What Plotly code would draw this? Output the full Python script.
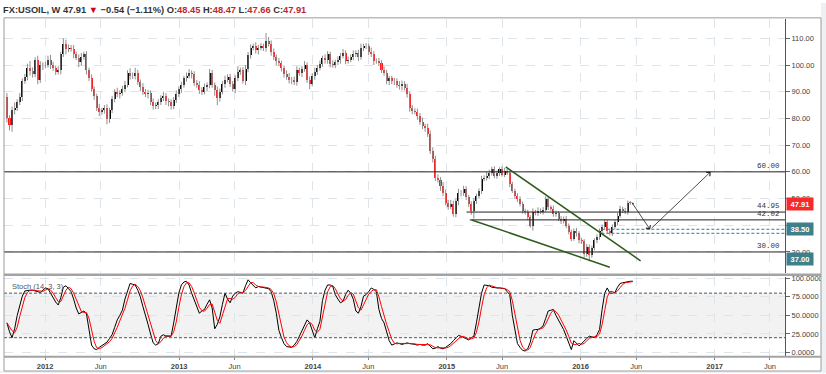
import numpy as np
import pandas as pd
import plotly.graph_objects as go

# ---------------- data (weekly FX:USOIL) ----------------
first_week = "2011-09-19"
first_open = 88.0

close = [
    80, 77.5, 83, 84, 86, 88, 94, 95.5, 99, 97.6,
    96.5, 101.7, 94.3, 99.9, 100, 100, 102, 100, 98.8, 97.5,
    98, 104, 108, 106, 106.5, 106, 104, 102.8, 101, 103,
    104, 98, 95, 91, 88.5, 84, 82.4, 83, 83.8, 79.8,
    83, 87.3, 90, 89, 89.5, 91, 92.6, 97, 96, 95.8,
    97, 93.6, 91.7, 90, 89, 89.5, 86, 84.5, 85, 86,
    87.7, 88.5, 86.5,
    86, 84.5, 87, 89, 91, 92.5, 95, 96, 97, 96.5,
    93.4, 92.5, 90.7, 90, 91.8, 92.5, 97, 92.5, 90.5, 87.5,
    90, 93, 94.5, 95.5, 93, 91, 95, 97.5, 98, 94,
    98.5, 103.9, 106.5, 107, 105.5, 106.5, 107, 106.5, 109, 108,
    104.7, 102.9, 101.5, 100.6, 98.8, 96.8, 95.5, 94.3, 94.5, 93.5,
    98, 97, 98.5, 100, 94.5, 93, 96, 97.5, 99, 100.5,
    102.5, 102,
    104, 100.3, 100, 101, 102, 103.5, 104.5, 101.5, 102, 103, 104,
    104.5, 103, 106.5, 107, 107, 105, 104, 101.5, 101.5, 100.8,
    98, 97, 94, 95, 94, 94, 92.5, 92, 93, 91.5,
    89, 84, 82.8, 82.5, 81, 78.8, 77, 76.5, 74.3, 67.7,
    65, 57.8, 57, 54.7, 52.2, 48.5, 47, 48, 44.2, 49,
    52.2,
    52, 53.6, 50.5, 48, 45.4, 49, 51, 52.8, 57.3, 57.7,
    58.5, 59.6, 60.9, 58.4, 59.5, 60.9, 59, 60.5, 59.6, 55.3,
    52.9, 51, 50, 47.9, 45.4, 44.8, 43, 39.9, 44.8, 44.5,
    45.5, 45, 45.8, 49.8, 46.7, 46.2, 44.2, 44.5, 42.4, 41.5,
    42.5, 39.9, 37.4, 35, 38, 37, 34.3,
    34, 29.4, 32, 28.8, 31.4, 34.3, 35.6, 38, 39.3, 41.1,
    38, 37, 39.3, 41.1, 43.6, 46.1, 45.5, 45, 48.5, 48.45,
    47.91,
]

wick_hi = [
    1.5, 1.2, 1.5, 2.0, 1.2, 1.5, 1.0, 1.2, 1.5, 2.5,
    1.5, 1.2, 1.8, 1.5, 1.0, 1.2, 1.5, 1.8, 1.2, 1.0,
    1.5, 1.0, 2.0, 1.5, 1.2, 1.0, 1.5, 1.0, 1.2, 1.5,
    1.0, 1.2, 1.0, 1.5, 1.0, 0.8, 1.5, 1.0, 1.2, 1.5,
    1.0, 1.2, 1.0, 1.5, 1.0, 1.2, 1.5, 1.0, 1.8, 1.2,
    2.0, 1.2, 1.0, 1.5, 1.0, 1.2, 1.0, 1.5, 1.0, 1.2,
    1.0, 1.5, 1.0, 1.0, 1.2, 1.0, 1.5, 1.0, 1.2, 1.0,
    1.2, 1.5, 1.0, 1.2, 1.0, 1.5, 1.0, 1.2, 1.0, 1.5,
    1.2, 1.0, 1.5, 1.2, 1.0, 1.5, 1.0, 1.2, 1.0, 1.2,
    2.0, 1.0, 1.2, 1.5, 1.0, 1.2, 1.0, 1.5, 1.0, 1.2,
    1.0, 3.0, 1.5, 1.2, 1.5, 1.0, 1.2, 1.0, 1.0, 1.2,
    1.5, 1.0, 1.2, 1.5, 1.0, 1.2, 1.5, 1.0, 1.2, 1.0,
    1.5, 1.0, 1.2, 1.0, 1.5, 1.2, 1.0, 1.5, 1.0, 1.2,
    1.0, 1.5, 1.0, 1.2, 1.0, 1.5, 1.0, 1.2, 1.5, 1.0,
    1.2, 1.0, 1.5, 1.2, 1.0, 1.2, 1.0, 1.5, 1.2, 1.0,
    1.0, 1.2, 1.0, 1.5, 1.2, 1.0, 1.5, 1.2, 1.0, 1.0,
    1.2, 1.0, 1.5, 1.0, 1.5, 1.2, 1.5, 1.0, 1.2, 1.0,
    1.5, 1.2, 1.0, 1.5, 1.2, 1.0, 1.5, 1.0, 1.2, 1.0,
    0.8, 1.0, 1.2, 0.8, 1.0, 1.2, 1.0, 1.5, 1.2, 1.0,
    1.2, 1.0, 0.8, 1.2, 1.0, 1.0, 0.8, 1.0, 0.8, 1.0,
    0.8, 1.0, 0.8, 1.0, 0.8, 1.5, 1.0, 1.2, 0.8, 1.0,
    1.0, 1.0, 0.8, 1.2, 1.0, 0.8, 1.0, 0.8, 1.0, 0.8,
    1.0, 0.8, 1.0, 0.8, 1.0, 0.8, 1.0, 0.8, 1.0, 0.8,
    1.0, 0.8, 1.0, 1.2, 1.0, 0.8, 1.0, 0.8, 1.0, 1.2,
    0.8, 1.0, 0.8, 0.6, 0.02,
]

wick_lo = [
    1.5, 2.0, 2.5, 1.5, 1.2, 1.0, 1.5, 1.0, 1.2, 1.5,
    1.2, 1.0, 1.5, 1.0, 1.8, 1.2, 1.0, 1.5, 1.0, 1.2,
    1.0, 1.5, 1.0, 2.0, 1.2, 1.0, 1.5, 1.0, 1.8, 1.2,
    1.0, 1.5, 1.0, 1.0, 1.5, 1.2, 1.5, 1.0, 1.2, 2.0,
    1.5, 1.0, 1.2, 1.0, 1.5, 1.0, 1.2, 1.0, 1.5, 1.0,
    1.2, 1.0, 1.5, 1.2, 1.0, 1.5, 1.0, 1.2, 1.0, 1.5,
    1.0, 1.2, 1.5, 1.5, 1.2, 1.0, 1.2, 1.0, 1.5, 1.0,
    1.2, 1.0, 1.5, 1.2, 1.0, 1.5, 1.2, 1.0, 1.5, 1.2,
    1.0, 2.0, 2.5, 1.2, 1.0, 1.5, 1.0, 1.2, 1.0, 1.5,
    1.0, 1.2, 1.0, 1.5, 1.2, 1.5, 1.0, 1.2, 1.5, 1.0,
    1.2, 1.5, 1.0, 1.2, 1.0, 1.5, 1.0, 1.2, 1.5, 1.0,
    1.2, 1.5, 1.0, 1.2, 1.0, 1.5, 1.0, 1.2, 2.0, 1.0,
    1.5, 1.2, 1.0, 1.2, 1.5, 1.5, 1.2, 1.0, 1.2, 1.0,
    1.5, 1.0, 1.2, 1.0, 1.0, 1.2, 1.0, 1.5, 1.0, 1.2,
    1.0, 1.2, 1.0, 1.5, 1.0, 1.2, 1.0, 1.0, 1.2, 1.5,
    1.2, 1.5, 1.0, 1.2, 1.5, 1.0, 1.2, 1.5, 1.2, 1.0,
    1.5, 1.2, 1.0, 1.5, 1.2, 1.0, 1.5, 1.2, 1.0, 1.8,
    1.2, 1.0, 1.2, 1.0, 1.0, 1.2, 1.5, 1.2, 1.0, 1.0,
    1.2, 1.5, 2.9, 1.0, 0.8, 1.0, 0.8, 1.0, 1.2, 1.0,
    0.8, 1.0, 1.0, 0.8, 1.0, 0.8, 1.0, 0.8, 1.0, 1.2,
    0.8, 1.0, 0.8, 1.0, 0.8, 1.9, 0.8, 1.0, 0.8, 1.0,
    0.8, 1.0, 0.8, 1.0, 1.0, 0.8, 1.0, 0.8, 1.0, 0.8,
    1.0, 0.8, 1.2, 1.0, 1.0, 1.5, 1.2, 2.3, 1.0, 0.8,
    1.0, 1.0, 0.8, 1.0, 1.0, 0.8, 1.0, 0.8, 1.0, 0.8,
    1.0, 0.8, 1.0, 0.8, 0.25,
]

stoch_k = [
    40, 28, 20, 32, 50, 64, 76, 83, 84, 84,
    84, 83, 82, 81, 84, 87, 86, 80, 74, 68,
    64, 74, 88, 90, 86, 82, 72, 60, 52, 54,
    56, 52, 30, 10, 5, 4, 7, 9, 11, 14,
    19, 24, 34, 44, 50, 57, 72, 84, 93, 92,
    91, 84, 75, 62, 48, 38, 25, 13, 10, 12,
    22, 24, 22, 22, 22, 40, 62, 80, 91, 95,
    96, 91, 80, 70, 60, 53, 56, 58, 65, 71,
    60, 32, 38, 48, 65, 80, 72, 67, 76, 80,
    82, 81, 80, 90, 98, 94, 91, 87, 89, 88,
    88, 87, 86, 82, 70, 53, 30, 20, 12, 8,
    7, 7, 10, 15, 22, 30, 38, 44, 40, 30,
    20, 32, 42, 70, 84, 91, 91, 89, 78, 72,
    67, 69, 78, 84, 80, 72, 56, 53, 62, 76,
    78, 82, 87, 85, 82, 58, 46, 40, 28, 16,
    10, 12, 13, 12, 11, 12, 13, 12, 12, 11,
    10, 11, 10, 10, 12, 9, 5, 6, 8, 6,
    5, 7, 9, 12, 16, 20, 23, 22, 20, 18,
    17, 20, 22, 40, 62, 80, 91, 91, 90, 88,
    87, 87, 87, 86, 86, 82, 78, 50, 31, 12,
    7, 3, 2, 5, 14, 30, 31, 31, 33, 36,
    46, 56, 57, 58, 50, 44, 38, 31, 22, 12,
    4, 16, 12, 9, 12, 16, 19, 22, 21, 20,
    24, 31, 58, 80, 87, 80, 80, 81, 88, 93,
    94, 95, 95, 96, 96,
]

tick_dates = ["2012-01-01", "2012-06-01", "2013-01-01", "2013-06-01", "2014-01-01", "2014-06-01",
              "2015-01-01", "2015-06-01", "2016-01-01", "2016-06-01", "2017-01-01", "2017-06-01"]
tick_labels = ["<b>2012</b>", "Jun", "<b>2013</b>", "Jun", "<b>2014</b>", "Jun",
               "<b>2015</b>", "Jun", "<b>2016</b>", "Jun", "<b>2017</b>", "Jun"]

price_ticks = [30, 40, 50, 60, 70, 80, 90, 100, 110]
stoch_ticks = [0, 25, 50, 75, 100]

# drawn levels / tools
level_prices = [60.00, 44.95, 42.02, 30.00]
level_labels = ["60.00", "44.95", "42.02", "30.00"]
level_starts = [None, "2015-02-24", "2015-03-05", None]
zone_prices = [38.50, 37.00]
zone_start = "2016-02-27"
trend_upper = (("2015-06-11", 61.85), ("2016-06-13", 26.7))
trend_lower = (("2015-03-10", 42.0), ("2016-03-21", 24.3))
projection = [("2016-05-17", 49.15), ("2016-07-09", 38.4), ("2016-12-21", 60.0)]

x_left, x_right = "2011-09-11", "2017-07-12"
price_range = [22.1, 117.3]
stoch_range = [-4.9, 101.7]

# ---------------- derived ----------------
dates = pd.date_range(first_week, periods=len(close), freq="7D")
c = np.array(close, dtype=float)
o = np.concatenate([[first_open], c[:-1]])
top = np.maximum(o, c)
bot = np.minimum(o, c)
hi = top + np.array(wick_hi)
lo = bot - np.array(wick_lo)
k = pd.Series(stoch_k, dtype=float)
d = k.rolling(3, min_periods=1).mean()

W, H = 826, 374
def px(x): return x / W
def py(y): return 1 - y / H

RED = "#ff1a1a"
colors = [("#000000" if cc >= oo else RED) for oo, cc in zip(o, c)]

wx, wy = [], []
for dt, l, h in zip(dates, lo, hi):
    wx += [dt, dt, None]
    wy += [l, h, None]

fig = go.Figure()
fig.add_trace(go.Scatter(x=wx, y=wy, mode="lines", line=dict(color="#8f8f8f", width=1),
                         hoverinfo="skip", xaxis="x", yaxis="y"))
fig.add_trace(go.Bar(x=dates, y=np.maximum(top - bot, 0.15), base=bot, marker_color=colors,
                     marker_line_width=0, width=5.5 * 86400000, xaxis="x", yaxis="y"))
fig.add_trace(go.Scatter(x=dates, y=k, mode="lines", line=dict(color="#000000", width=1),
                         xaxis="x2", yaxis="y2"))
fig.add_trace(go.Scatter(x=dates, y=d, mode="lines", line=dict(color="#ff0000", width=1),
                         xaxis="x2", yaxis="y2"))

grid = dict(showgrid=True, gridcolor="#dde5ea", griddash="dash", gridwidth=1, zeroline=False)
tickfont = dict(family="Liberation Sans, Arial", size=7.5, color="#444")

fig.update_layout(
    width=W, height=H, margin=dict(l=0, r=0, t=0, b=0),
    paper_bgcolor="white", plot_bgcolor="white", showlegend=False, bargap=0,
    barmode="overlay",
    xaxis=dict(domain=[px(4), px(785)], range=[x_left, x_right], type="date", anchor="y",
               tickvals=tick_dates, showticklabels=False, ticks="", **grid),
    xaxis2=dict(domain=[px(4), px(785)], range=[x_left, x_right], type="date", anchor="y2",
                matches="x", tickvals=tick_dates, ticktext=tick_labels, showticklabels=True,
                ticks="outside", ticklen=3, tickcolor="#888", tickfont=tickfont, **grid),
    yaxis=dict(domain=[py(273), py(16)], range=price_range, side="right", anchor="x",
               tickvals=price_ticks, tickformat=".2f", ticks="outside", ticklen=4, tickcolor="#666",
               showline=True, linecolor="#555", linewidth=1, tickfont=tickfont, **grid),
    yaxis2=dict(domain=[py(357), py(277)], range=stoch_range, side="right", anchor="x2",
                tickvals=stoch_ticks, tickformat=".4f", ticks="outside", ticklen=4, tickcolor="#666",
                showline=True, linecolor="#555", linewidth=1, tickfont=tickfont, **grid),
)

shapes = []
# stochastic band and 20/80 levels
shapes.append(dict(type="rect", xref="x2 domain", yref="y2", x0=0, x1=1, y0=20, y1=80,
                   fillcolor="#f2f2f2", line=dict(width=0), layer="below"))
for lvl in (20, 80):
    shapes.append(dict(type="line", xref="x2 domain", yref="y2", x0=0, x1=1, y0=lvl, y1=lvl,
                       line=dict(color="#555", width=1, dash="3px,2px")))
# horizontal price levels
for p, s in zip(level_prices, level_starts):
    if s is None:
        shapes.append(dict(type="line", xref="x domain", yref="y", x0=0, x1=1, y0=p, y1=p,
                           line=dict(color="#222", width=1)))
    else:
        shapes.append(dict(type="line", xref="x", yref="y", x0=s, x1=x_right, y0=p, y1=p,
                           line=dict(color="#222", width=1)))
for p in zone_prices:
    shapes.append(dict(type="line", xref="x", yref="y", x0=zone_start, x1=x_right, y0=p, y1=p,
                       line=dict(color="#2b8090", width=1, dash="3px,2px")))
# trend lines
for (a, b) in (trend_upper, trend_lower):
    shapes.append(dict(type="line", xref="x", yref="y", x0=a[0], y0=a[1], x1=b[0], y1=b[1],
                       line=dict(color="#2e5b1c", width=1.5)))
# frame
frame = "#9c9c9c"
shapes += [
    dict(type="rect", xref="paper", yref="paper", x0=px(821), x1=1, y0=0, y1=1,
         fillcolor="#eef1f3", line=dict(width=0)),
    dict(type="rect", xref="paper", yref="paper", x0=0, x1=1, y0=0, y1=py(372),
         fillcolor="#eef1f3", line=dict(width=0)),
    dict(type="line", xref="paper", yref="paper", x0=px(4), x1=px(4), y0=py(15), y1=py(372),
         line=dict(color=frame, width=1)),
    dict(type="line", xref="paper", yref="paper", x0=px(821), x1=px(821), y0=py(15), y1=py(372),
         line=dict(color=frame, width=1)),
    dict(type="line", xref="paper", yref="paper", x0=px(4), x1=px(821), y0=py(15), y1=py(15),
         line=dict(color=frame, width=1)),
    dict(type="line", xref="paper", yref="paper", x0=px(4), x1=px(821), y0=py(372), y1=py(372),
         line=dict(color=frame, width=1)),
    dict(type="rect", xref="paper", yref="paper", x0=px(4), x1=px(821), y0=py(276), y1=py(273.5),
         fillcolor="#a3a3a3", line=dict(width=0)),
    dict(type="rect", xref="paper", yref="paper", x0=px(4), x1=px(821), y0=py(358.5), y1=py(356.5),
         fillcolor="#a3a3a3", line=dict(width=0)),
]
fig.update_layout(shapes=shapes)

ann = []
hdr = ("<b>FX:USOIL, W 47.91 <span style='color:#d0021b'>▼</span> −0.54 (−1.11%) O:</b>"
       "<b><span style='color:#c0272d'>48.45</span> H:<span style='color:#c0272d'>48.47</span>"
       " L:<span style='color:#c0272d'>47.66</span> C:<span style='color:#c0272d'>47.91</span></b>")
ann.append(dict(xref="paper", yref="paper", x=px(1), y=py(7.5), xanchor="left", yanchor="middle",
                text=hdr, showarrow=False, font=dict(family="Liberation Sans, Arial", size=9.3, color="#333")))
ann.append(dict(xref="paper", yref="paper", x=px(10), y=py(287), xanchor="left", yanchor="middle",
                text="Stoch (14, 3, 3)", showarrow=False,
                font=dict(family="Liberation Sans, Arial", size=7.5, color="#555")))
for p, t in zip(level_prices, level_labels):
    ann.append(dict(xref="paper", yref="y", x=px(782), y=p, xanchor="right", yanchor="bottom",
                    yshift=0, text=t, showarrow=False,
                    font=dict(family="Liberation Mono, DejaVu Sans Mono", size=7.5, color="#333")))
box_font = dict(family="Liberation Sans, Arial", size=7.5, color="white")
ann.append(dict(xref="paper", yref="y", x=px(786), y=close[-1], xanchor="left", yanchor="middle",
                text="<b>47.91</b>", showarrow=False, bgcolor="#f72a2a", borderpad=1.5, width=23,
                font=box_font))
ann.append(dict(xref="paper", yref="y", x=px(786), y=zone_prices[0], xanchor="left", yanchor="middle",
                text="<b>38.50</b>", showarrow=False, bgcolor="#3f7f8c", borderpad=1.5, width=23,
                font=box_font))
ann.append(dict(xref="paper", yref="y", x=px(786), y=zone_prices[1], xanchor="left", yanchor="middle",
                yshift=-26, text="<b>37.00</b>", showarrow=False, bgcolor="#3f7f8c", borderpad=1.5,
                width=23, font=box_font))
for (a, b) in zip(projection[:-1], projection[1:]):
    ann.append(dict(xref="x", yref="y", axref="x", ayref="y", x=b[0], y=b[1], ax=a[0], ay=a[1],
                    text="", showarrow=True, arrowhead=4, arrowsize=1.3, arrowwidth=0.8,
                    arrowcolor="#222"))
fig.update_layout(annotations=ann)

fig.write_html("out.html", config={"displayModeBar": False, "staticPlot": True},
               post_script="document.body.style.margin='0';document.body.style.overflow='hidden';")
